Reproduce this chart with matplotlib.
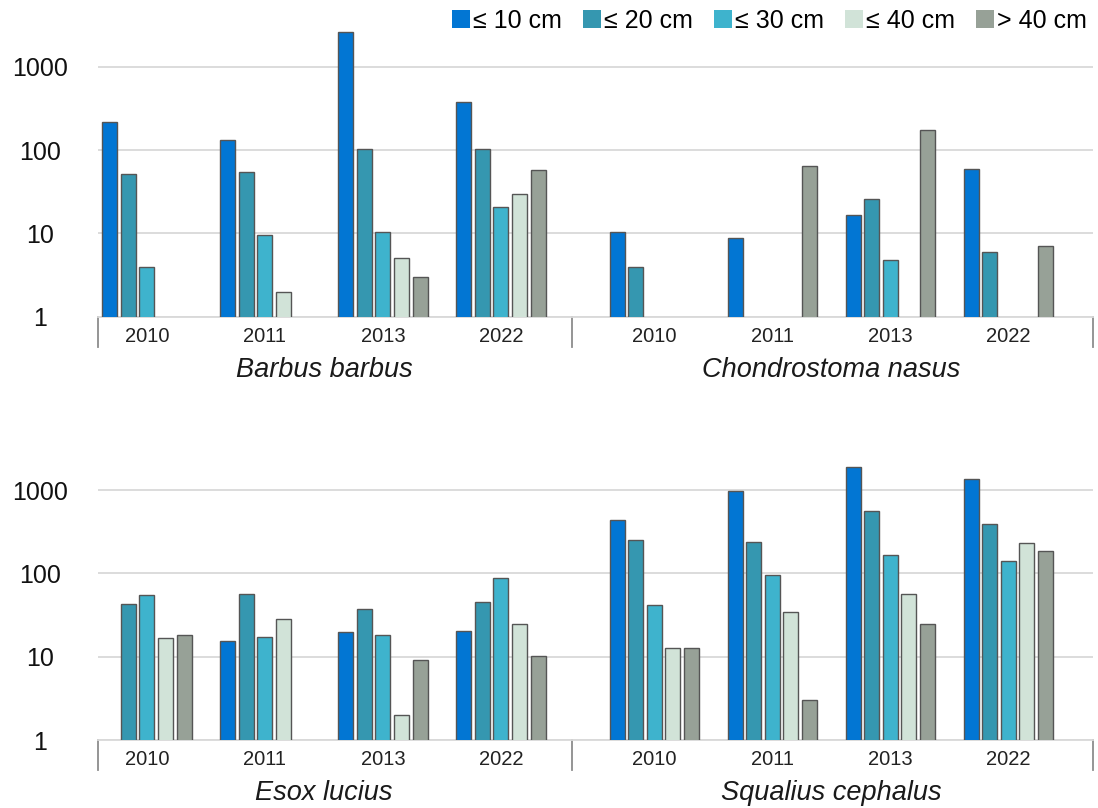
import matplotlib.pyplot as plt
import numpy as np
from matplotlib.patches import Patch
from matplotlib.transforms import blended_transform_factory

plt.rcParams['font.family'] = ['Liberation Sans', 'DejaVu Sans']

nan = np.nan

years = ['2010', '2011', '2013', '2022']
size_classes = ['≤ 10 cm', '≤ 20 cm', '≤ 30 cm', '≤ 40 cm', '> 40 cm']
colors = ['#0276d3', '#3597b0', '#3eb3cd', '#d1e3d8', '#97a197']

# catch per size class (rows) and year (columns); nan = nothing caught
barbus = [[217, 132, 2600, 381],
          [52, 55, 104, 104],
          [4, 9.6, 10.5, 21],
          [nan, 2, 5, 30],
          [nan, nan, 3, 58]]
chondrostoma = [[10.3, 8.9, 16.5, 60],
                [3.9, nan, 26, 6],
                [nan, nan, 4.8, nan],
                [nan, nan, nan, nan],
                [nan, 64, 176, 7]]
esox = [[nan, 15.3, 20, 20.4],
        [42.6, 56, 37, 45.7],
        [54.6, 17.2, 18.4, 87],
        [16.8, 28, 2, 25],
        [18, nan, 9, 10.3]]
squalius = [[441, 975, 1910, 1359],
            [252, 238, 566, 395],
            [41.7, 95.7, 168, 141],
            [12.8, 34, 57, 234],
            [12.8, 3, 25, 184]]

rows = [[('Barbus barbus', barbus), ('Chondrostoma nasus', chondrostoma)],
        [('Esox lucius', esox), ('Squalius cephalus', squalius)]]

W, H = 1098, 808
fig = plt.figure(figsize=(W / 100, H / 100), dpi=100)

group_x = np.arange(len(years))
half_offset = [0.0, 4.3]
step = 0.157
width = 0.127
x_left, x_sep, x_right = -0.415, 3.6, 8.017
grid_color = '#d9d9d9'

axes = [fig.add_axes([98 / W, (H - 316.7) / H, 995 / W, 300 / H]),
        fig.add_axes([98 / W, (H - 740) / H, 995 / W, 300 / H])]

for ax, pair in zip(axes, rows):
    ax.set_yscale('log')
    ticks_x, tick_labels = [], []
    for h, (name, data) in enumerate(pair):
        centers = group_x + half_offset[h]
        for k in range(len(size_classes)):
            vals = np.asarray(data[k], dtype=float)
            ok = ~np.isnan(vals)
            ax.bar((centers + (k - 2) * step)[ok], vals[ok], width,
                   color=colors[k], edgecolor='#555555', linewidth=1.0,
                   zorder=3)
        ticks_x += list(centers)
        tick_labels += years
        trans = blended_transform_factory(ax.transData, ax.transAxes)
        ax.text(centers.mean(), -0.177, name, transform=trans,
                ha='center', va='center', style='italic', fontsize=19.5,
                color='#1a1a1a')

    ax.set_xlim(x_left, x_right)
    ax.set_ylim(1, 10 ** 3.6)
    ax.set_yticks([1, 10, 100, 1000])
    ax.set_yticklabels(['1', '10', '100', '1000'])
    ax.yaxis.set_minor_locator(plt.NullLocator())
    ax.set_xticks(ticks_x)
    ax.set_xticklabels(tick_labels)
    ax.tick_params(axis='y', length=0, pad=41.5, labelsize=18,
                   labelcolor='#111111')
    for lab in ax.get_yticklabels():
        lab.set_horizontalalignment('center')
    ax.tick_params(axis='x', length=0, pad=7.5, labelsize=14.5,
                   labelcolor='#222222')
    ax.grid(axis='y', color=grid_color, linewidth=1.3, zorder=0)
    ax.grid(axis='x', visible=False)
    for side in ['top', 'right', 'left']:
        ax.spines[side].set_visible(False)
    ax.spines['bottom'].set_color(grid_color)
    ax.spines['bottom'].set_linewidth(1.3)

    # category separators under the axis
    trans = blended_transform_factory(ax.transData, ax.transAxes)
    for xs in [x_left + 0.004, x_sep, x_right - 0.004]:
        ax.plot([xs, xs], [0, -0.1], transform=trans, color='#8c8c8c',
                linewidth=1.3, clip_on=False)

handles = [Patch(facecolor=c, edgecolor='none') for c in colors]
fig.legend(handles, size_classes, ncol=5, loc='center',
           bbox_to_anchor=(769.5 / W, 1 - 21 / H), frameon=False,
           fontsize=18, handlelength=0.72, handleheight=0.72,
           handletextpad=0.1, columnspacing=0.86, borderpad=0,
           borderaxespad=0)

fig.savefig('out.png', dpi=100)
